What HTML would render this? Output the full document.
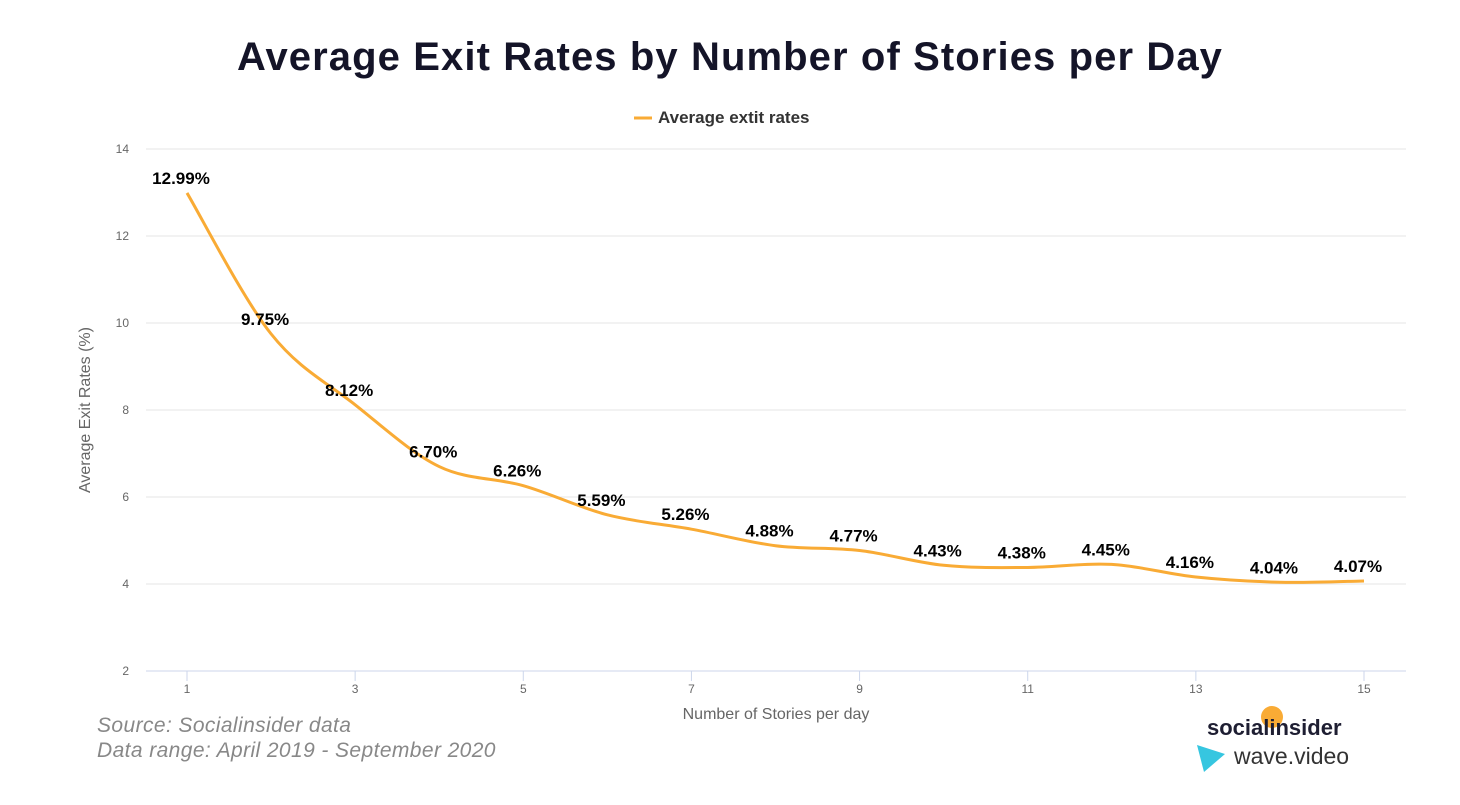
<!DOCTYPE html>
<html><head><meta charset="utf-8"><style>
body{margin:0;width:1460px;height:800px;background:#fff;overflow:hidden;font-family:"Liberation Sans",sans-serif}
</style></head><body>
<svg width="1460" height="800" xmlns="http://www.w3.org/2000/svg">
<text x="730" y="70" text-anchor="middle" font-size="40" font-weight="bold" letter-spacing="1.1" fill="#141428">Average Exit Rates by Number of Stories per Day</text>
<g><line x1="634" y1="118" x2="652" y2="118" stroke="#f9ab35" stroke-width="3"/><text x="658" y="123" font-size="17" font-weight="bold" fill="#333">Average extit rates</text></g>
<g id="grid"></g><g id="axes"></g>
<path id="line" fill="none" stroke="#f9ab35" stroke-width="3"/>
<g id="labels"></g>
<text transform="translate(90,410) rotate(-90)" text-anchor="middle" font-size="16" fill="#666">Average Exit Rates (%)</text>
<text x="776" y="719" text-anchor="middle" font-size="16" fill="#666">Number of Stories per day</text>
<text x="97" y="732" font-size="21" font-style="italic" letter-spacing="0.4" fill="#888">Source: Socialinsider data</text>
<text x="97" y="757" font-size="21" font-style="italic" letter-spacing="0.4" fill="#888">Data range: April 2019 - September 2020</text>
<circle cx="1272" cy="717" r="11" fill="#f9ab35"/>
<text x="1207" y="735" font-size="22" font-weight="bold" fill="#1e1e32">socialinsider</text>
<polygon points="1197,745 1225,754 1204,772" fill="#36c6e0"/>
<text x="1234" y="764" font-size="23" fill="#333">wave.video</text>
</svg>
<script>
const categories=[1,2,3,4,5,6,7,8,9,10,11,12,13,14,15];
const values=[12.99,9.75,8.12,6.70,6.26,5.59,5.26,4.88,4.77,4.43,4.38,4.45,4.16,4.04,4.07];
const yTicks=[2,4,6,8,10,12,14];
const xTicks=[1,3,5,7,9,11,13,15];
const NS="http://www.w3.org/2000/svg";
const xs=v=>187+(v-1)*(1364-187)/14;
const ys=v=>671-(v-2)*(671-149)/12;
function mk(t,a,p,txt){const e=document.createElementNS(NS,t);for(const k in a)e.setAttribute(k,a[k]);if(txt!==undefined)e.textContent=txt;p.appendChild(e);return e;}
const grid=document.getElementById('grid'),axes=document.getElementById('axes'),labels=document.getElementById('labels');
yTicks.forEach(t=>{
 const l=mk('line',{x1:146,x2:1406,y1:ys(t),y2:ys(t),stroke:t===2?'#ccd6eb':'#e6e6e6','stroke-width':1},grid);
 
 
 const tx=mk('text',{x:129,y:ys(t)+4,'text-anchor':'end','font-size':12,fill:'#666'},axes,String(t));
 
 
});
xTicks.forEach(t=>{
 mk('line',{x1:xs(t),x2:xs(t),y1:671,y2:681,stroke:'#ccd6eb'},axes);
 const tx=mk('text',{x:xs(t),y:693,'text-anchor':'middle','font-size':12,fill:'#666'},axes,String(t));
 
 
});
const pts=categories.map((c,i)=>[xs(c),ys(values[i])]);
let d='M'+pts[0][0]+','+pts[0][1];
for(let i=0;i<pts.length-1;i++){
 const p0=pts[Math.max(0,i-1)],p1=pts[i],p2=pts[i+1],p3=pts[Math.min(pts.length-1,i+2)];
 const k=1/6;
 d+=' C'+(p1[0]+(p2[0]-p0[0])*k)+','+(p1[1]+(p2[1]-p0[1])*k)+' '+(p2[0]-(p3[0]-p1[0])*k)+','+(p2[1]-(p3[1]-p1[1])*k)+' '+p2[0]+','+p2[1];
}
document.getElementById('line').setAttribute('d',d);
pts.forEach((p,i)=>{
 const t=mk('text',{x:p[0]-6,y:p[1]-9,'text-anchor':'middle','font-size':17,'font-weight':'bold',fill:'#000'},labels,values[i].toFixed(2)+'%');
 
 
});
</script>
</body></html>
